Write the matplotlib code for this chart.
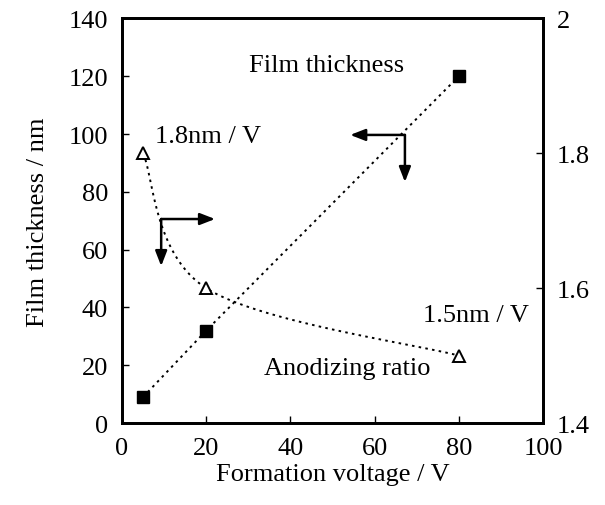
import numpy as np
import matplotlib
matplotlib.use("Agg")
import matplotlib.pyplot as plt
from matplotlib.ticker import FuncFormatter

# values
voltage = [5, 20, 80]
thickness = [9, 32, 120]
ratio = [1.8, 1.6, 1.5]

# L-shaped arrows: corner, horizontal tip, vertical tip (left-axis data units)
arrow_ratio = [(9.3, 70.6), (22.1, 70.6), (9.3, 54.3)]
arrow_thick = [(67.2, 99.7), (54.2, 99.7), (67.2, 83.4)]

plt.rcParams['font.family'] = ['Liberation Serif', 'DejaVu Serif']
plt.rcParams['font.size'] = 19

fig = plt.figure(figsize=(6.05, 5.06), dpi=100)
ax = fig.add_axes([0.2017, 0.162, 0.6958, 0.7995])
ax2 = ax.twinx()

dot = (0, (1.3, 2.2))

ax.plot(voltage, thickness, color='k', ls=dot, lw=1.4, marker='s', ms=9,
        mfc='k', mec='k', zorder=3)


def smooth(xs, ys, n=60):
    # excel-like bezier smoothing, done in axes-fraction space
    px = (np.array(xs) - 0) / 100.0
    py = (np.array(ys) - 1.4) / 0.6
    pts = np.column_stack([px, py * (404.5 / 421.0)])
    out = []
    m = len(pts)
    for i in range(m - 1):
        p0 = pts[max(i - 1, 0)]
        p1 = pts[i]
        p2 = pts[i + 1]
        p3 = pts[min(i + 2, m - 1)]
        c1 = p1 + (p2 - p0) / 6.0
        c2 = p2 - (p3 - p1) / 6.0
        t = np.linspace(0, 1, n)[:, None]
        seg = ((1 - t) ** 3) * p1 + 3 * ((1 - t) ** 2) * t * c1 \
            + 3 * (1 - t) * t ** 2 * c2 + t ** 3 * p2
        out.append(seg)
    seg = np.vstack(out)
    return seg[:, 0] * 100.0, seg[:, 1] / (404.5 / 421.0) * 0.6 + 1.4


sx, sy = smooth(voltage, ratio)
ax2.plot(sx, sy, color='k', ls=dot, lw=1.4, zorder=2)
ax2.plot(voltage, ratio, ls='none', marker='^', ms=9, mfc='white',
         mec='k', mew=1.4, zorder=3)

for arr in (arrow_ratio, arrow_thick):
    corner, htip, vtip = arr
    for tip in (htip, vtip):
        ax.annotate('', xy=tip, xytext=corner,
                    arrowprops=dict(arrowstyle='-|>,head_length=0.9,head_width=0.35',
                                    mutation_scale=10, lw=1.8, color='k',
                                    shrinkA=0, shrinkB=0))

ax.text(48.7, 124, 'Film thickness', ha='center', va='center')
ax.text(7.8, 99.3, '1.8nm / V', ha='left', va='center')
ax.text(71.5, 37.4, '1.5nm / V', ha='left', va='center')
ax.text(53.4, 19, 'Anodizing ratio', ha='center', va='center')

ax.set_xlim(0, 100)
ax.set_ylim(0, 140)
ax2.set_ylim(1.4, 2.0)
ax.set_xticks(range(0, 101, 20))
ax.set_yticks(range(0, 141, 20))
ax2.set_yticks([1.4, 1.6, 1.8, 2.0])
ax2.yaxis.set_major_formatter(FuncFormatter(lambda v, p: '{:g}'.format(round(v, 2))))

for a in (ax, ax2):
    a.tick_params(direction='in', length=5, width=1, pad=10)
    for s in a.spines.values():
        s.set_linewidth(2)

ax.set_xlabel('Formation voltage / V', labelpad=3)
ax.set_ylabel('Film thickness / nm', labelpad=14)

fig.savefig('out.png', dpi=100)
